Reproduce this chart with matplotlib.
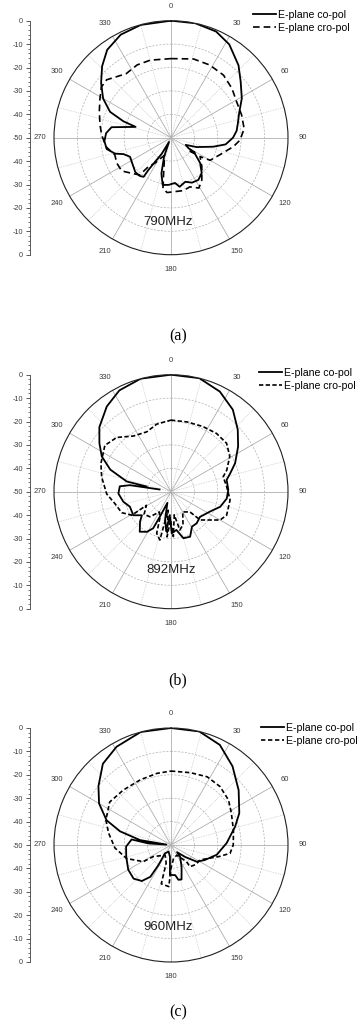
import numpy as np
import matplotlib
matplotlib.use('Agg')
import matplotlib.pyplot as plt

plt.rcParams['font.family'] = ['Liberation Sans', 'DejaVu Sans']

# ---------------- data (angle in degrees clockwise from top, level in dB) ----------------
a_co_theta = [0, 12, 23, 32, 43, 51, 61, 70, 78, 84, 90, 97, 102, 110, 116, 121, 122, 125, 124, 131, 139, 147,
              155, 162, 170, 175, 183, 190, 195, 200, 205, 210, 213, 215, 215, 219, 226, 234, 245, 251, 254, 260,
              267, 274, 280, 287, 289, 293, 300, 308, 316, 324, 334, 345, 360]
a_co_db = [0, 0, -0.7, -3, -7.7, -11.7, -15.4, -19, -20.8, -21.8, -23.5, -26.5, -31.5, -38.3, -43, -41.3, -38,
           -40, -37.6, -33.5, -30, -28.5, -28.8, -30.2, -28.7, -30.6, -29.8, -29.5, -34.2, -41.3, -48, -42, -38.6,
           -33.2, -29.6, -28.9, -28.8, -29.9, -30.7, -28.5, -25.2, -22.1, -21.5, -22.2, -24.2, -34.2, -28.5,
           -21.7, -16.5, -12.1, -7.6, -3.6, -1, -0.1, 0]
a_cr_theta = [0, 16, 28, 40, 51, 61, 72, 83, 92, 98, 109, 120, 123, 133, 144, 151, 159, 167, 176, 184, 189, 192,
              200, 207, 212, 218, 220, 228, 236, 245, 253, 262, 272, 280, 290, 299, 306, 312, 318, 325, 335, 345,
              360]
a_cr_db = [-16.2, -15, -14.8, -15.1, -16.5, -18, -18.3, -18.5, -20.5, -23, -27.8, -30.7, -35.2, -32, -27.6, -25.4,
           -27.5, -26.8, -26.9, -26.5, -28, -35, -42, -40, -37.3, -34.3, -29.2, -27.3, -24.6, -24.4, -24.9, -22,
           -20.4, -19.2, -17.4, -15.3, -13.2, -13, -15, -16.6, -15.7, -15.7, -16.2]

b_co_theta = [282, 283, 290, 297, 304, 312, 323, 333, 345, 360, 374, 386, 397, 407, 416, 426, 433, 438, 448, 457,
              467, 477, 491, 501, 509, 517, 525, 532, 539, 543, 547, 552, 558, 564, 566, 571, 578, 586, 591, 598,
              610, 618, 628, 636, 639, 641]
b_co_db = [-39.3, -30.6, -22.4, -16.8, -13.1, -8.8, -4.4, -1.4, 0, 0, 0, -2.4, -6.1, -11, -15.4, -20, -23.6,
           -25.7, -25.5, -26, -28, -31.3, -33.6, -32.6, -32.6, -29.1, -29.4, -33.5, -32.2, -40, -33, -38, -45, -38.3,
           -32.6, -30, -28.3, -31.6, -34, -31, -31.3, -29.2, -27.5, -28, -32.2, -45]
b_cr_theta = [0, 13, 26, 38, 49, 59, 69, 74, 85, 98, 113, 120, 134, 137, 150, 160, 167, 172, 177, 181, 185, 189,
              193, 199, 203, 210, 220, 230, 241, 239, 247, 258, 268, 282, 292, 305, 315, 326, 338, 348, 360]
b_cr_db = [-19.4, -19.4, -19, -18.4, -18.5, -20.7, -24.5, -26.8, -26.1, -24.5, -24.2, -25.8, -32.6, -38.2, -40,
           -35, -33.2, -40, -30.8, -38, -30.6, -42, -28.8, -31.2, -38, -40, -36, -35, -38, -30.5, -27.1, -25.5,
           -22.5, -19.7, -17.7, -15.5, -17.2, -21.3, -22.4, -20.5, -19.4]

c_co_theta = [0, 14, 26, 38, 51, 65, 74, 88, 102, 114, 123, 130, 140, 142, 154, 163, 168, 172, 182, 185, 200, 216,
              212, 213, 219, 228, 240, 255, 268, 278, 274, 275, 279, 285, 291, 300, 309, 320, 331, 345, 360]
c_co_db = [0, 0, -2.4, -7.3, -12.8, -17.8, -21.5, -26.2, -30, -34.2, -36.9, -42, -46, -43.7, -39.7, -34.6, -34.8,
           -37, -37.2, -45, -47, -45.6, -39.9, -33.8, -30.2, -28.5, -28.9, -30.2, -30.8, -33, -40.3, -48, -36.6,
           -27.5, -20.5, -14.5, -10.1, -4.7, -2, 0, 0]
c_cr_theta = [0, 15, 28, 40, 52, 62, 77, 90, 98, 103, 117, 128, 139, 137, 150, 170, 180, 183, 194, 195, 210, 237,
              239, 253, 267, 281, 291, 305, 319, 335, 349, 360]
c_cr_db = [-18.4, -18, -17, -17.4, -18.8, -20.8, -22.6, -23.4, -24.5, -28.5, -36, -36.5, -37.7, -40.2, -45, -44,
           -40, -32.2, -32.9, -42, -45, -40.9, -36.2, -30.2, -26, -22.8, -20.2, -18, -18.9, -19.2, -18.8, -18.4]

freq_labels = ['790MHz', '892MHz', '960MHz']
captions = ['(a)', '(b)', '(c)']
legend_labels = ['E-plane co-pol', 'E-plane cro-pol']
angle_ticks = list(range(0, 360, 30))
scale_ticks = list(range(0, 101, 10))
scale_labels = [str(abs(v - 50) - 50) if abs(v - 50) != 50 else '0' for v in scale_ticks]

# ---------------- layout (pixels) ----------------
W, H = 357, 1030
fig = plt.figure(figsize=(W / 100, H / 100), dpi=100)

R = 117
cx = 171
centers_y = [137.7, 491.7, 845.0]
legend_xy = [(253, 10), (259, 368), (261, 723)]
text_pos = [(0.487, 0.14), (0.50, 0.165), (0.487, 0.151)]
caption_y = [336, 680, 1012]
dash_styles = [(0, (4.0, 2.4)), (0, (2.6, 1.4)), (0, (2.6, 1.6))]

data = [(a_co_theta, a_co_db, a_cr_theta, a_cr_db),
        (b_co_theta, b_co_db, b_cr_theta, b_cr_db),
        (c_co_theta, c_co_db, c_cr_theta, c_cr_db)]

tick_col = '#3a3a3a'
grid_col = '#a8a8a8'

for i in range(3):
    cy = centers_y[i]
    left = (cx - R) / W
    bottom = (H - (cy + R)) / H
    ax = fig.add_axes([left, bottom, 2 * R / W, 2 * R / H], projection='polar')
    ax.set_theta_zero_location('N')
    ax.set_theta_direction(-1)
    ax.set_ylim(-50, 0)
    ax.set_yticks([-40, -30, -20, -10])
    ax.set_yticklabels([])
    ax.set_xticks(np.deg2rad(angle_ticks))
    ax.set_xticklabels([str(a) for a in angle_ticks])
    ax.set_xticks(np.deg2rad(np.arange(15, 360, 30)), minor=True)
    ax.tick_params(axis='x', which='major', labelsize=5.5, pad=0.0, labelcolor=tick_col)
    ax.tick_params(axis='x', which='minor', length=0)
    ax.xaxis.grid(True, which='major', color=grid_col, lw=0.55, ls='-')
    ax.xaxis.grid(True, which='minor', color='#b8b8b8', lw=0.5, ls=(0, (1, 1.5)))
    ax.yaxis.grid(True, color='#b0b0b0', lw=0.5, ls=(0, (3, 2)))
    ax.spines['polar'].set_color('#202020')
    ax.spines['polar'].set_linewidth(0.8)

    cth, cdb, xth, xdb = data[i]
    l1, = ax.plot(np.deg2rad(cth), cdb, color='black', lw=1.3, solid_joinstyle='round')
    l2, = ax.plot(np.deg2rad(xth), xdb, color='black', lw=1.2, ls=dash_styles[i])

    ax.text(text_pos[i][0], text_pos[i][1], freq_labels[i], transform=ax.transAxes,
            ha='center', va='center', fontsize=9.5, color='#222222')

    lx, ly = legend_xy[i]
    fig.legend([l1, l2], legend_labels, loc='upper left',
               bbox_to_anchor=(lx / W, 1 - ly / H), frameon=False, fontsize=7.6,
               handlelength=2.2, handletextpad=0.15, labelspacing=0.25, borderpad=0,
               borderaxespad=0)

    # linear scale bar at left
    sax = fig.add_axes([30 / W, bottom, 0.002, 2 * R / H])
    sax.set_ylim(0, 100)
    sax.set_xlim(0, 1)
    for s in ['top', 'right', 'bottom']:
        sax.spines[s].set_visible(False)
    sax.spines['left'].set_color('#404040')
    sax.spines['left'].set_linewidth(0.6)
    sax.set_xticks([])
    sax.set_yticks(scale_ticks)
    sax.set_yticklabels(scale_labels)
    sax.set_yticks(np.arange(0, 101, 2), minor=True)
    sax.tick_params(axis='y', which='major', length=3, width=0.6, labelsize=5.2, pad=2,
                    color='#404040', labelcolor=tick_col)
    sax.tick_params(axis='y', which='minor', length=1.6, width=0.5, color='#404040')
    sax.patch.set_alpha(0)

    fig.text(178 / W, 1 - caption_y[i] / H, captions[i], ha='center', va='center',
             fontsize=11.5, family=['Liberation Serif', 'DejaVu Serif'], color='black')

fig.savefig('out.png', dpi=100)
